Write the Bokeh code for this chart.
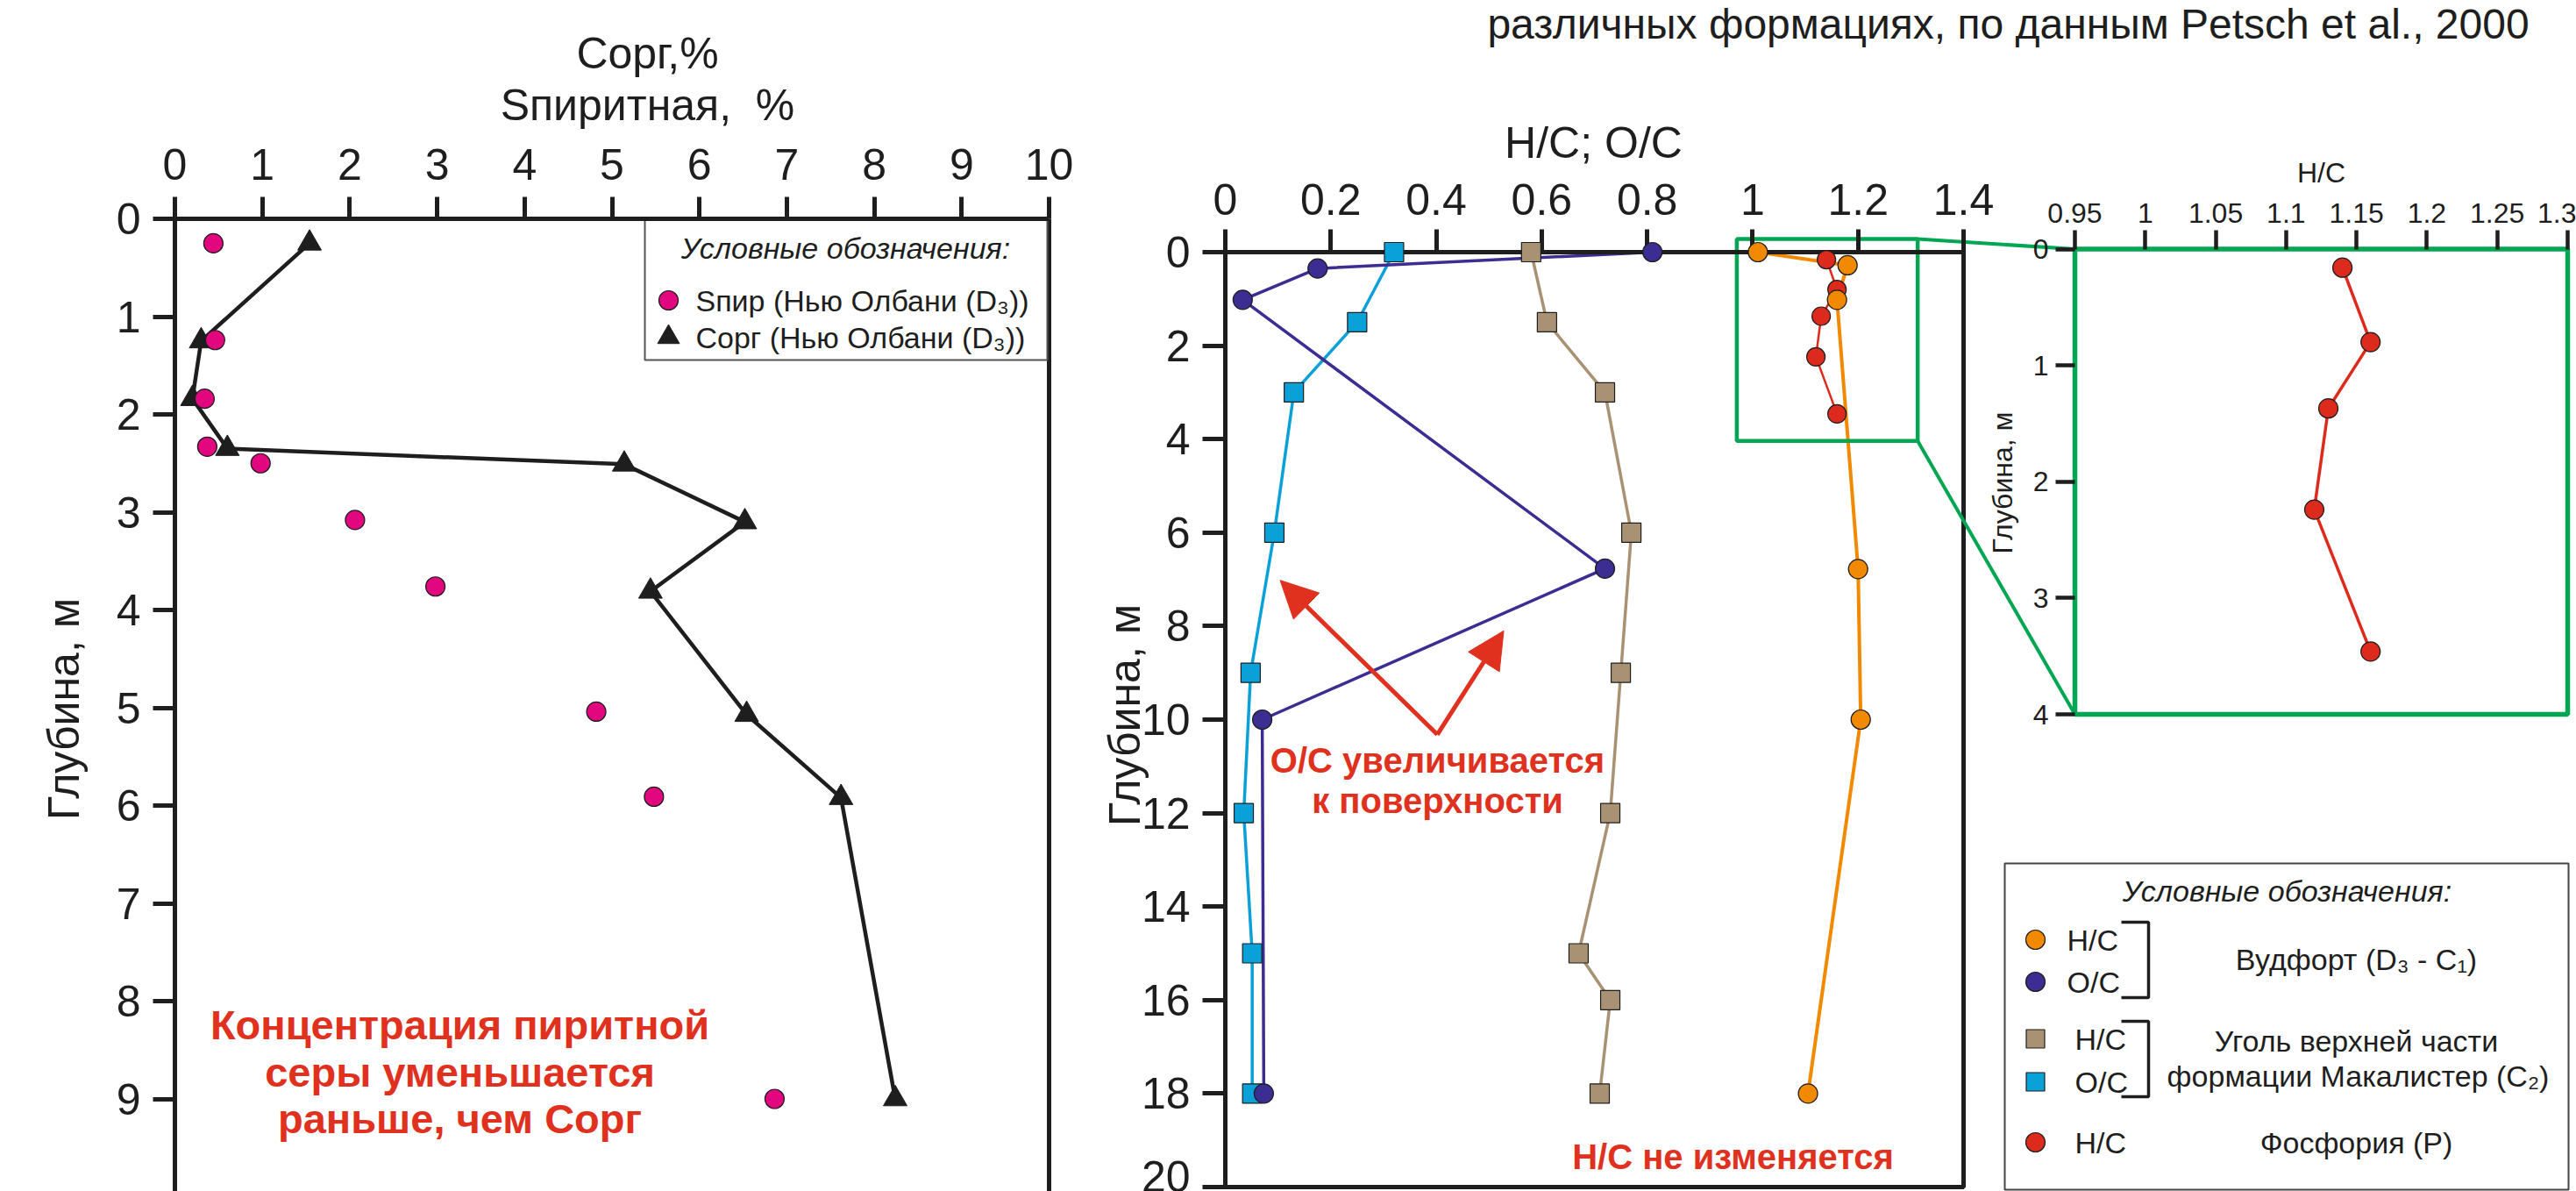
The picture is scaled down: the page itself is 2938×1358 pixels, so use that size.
import math
from bokeh.plotting import figure
from bokeh.models import Range1d, LinearAxis, FixedTicker, NumeralTickFormatter, Label, Arrow, NormalHead
from bokeh.embed import file_html
from bokeh.resources import INLINE

W, H = 2938, 1358
FONT = "Liberation Sans"
INK = "#1e1e1e"

# ---------------- data ----------------
# Left panel: New Albany (D3)
spir_depth = [0.25, 1.24, 1.84, 2.33, 2.50, 3.08, 3.76, 5.04, 5.91, 9.00]
spir_value = [0.44, 0.46, 0.34, 0.37, 0.98, 2.06, 2.98, 4.82, 5.48, 6.86]
corg_depth = [0.25, 1.25, 1.84, 2.35, 2.51, 3.10, 3.81, 5.07, 5.92, 9.00]
corg_value = [1.54, 0.30, 0.20, 0.60, 5.14, 6.52, 5.44, 6.54, 7.62, 8.24]
L_xticks = list(range(0, 11))
L_yticks = list(range(0, 11))

# Middle panel: Woodford, McAlester coal, Phosphoria
wf_hc_depth = [0.0, 0.28, 1.02, 6.78, 10.0, 18.0]
wf_hc = [1.01, 1.18, 1.16, 1.20, 1.205, 1.105]
wf_oc_depth = [0.0, 0.35, 1.02, 6.77, 10.0, 18.0]
wf_oc = [0.81, 0.175, 0.033, 0.72, 0.07, 0.073]
mc_hc_depth = [0, 1.5, 3, 6, 9, 12, 15, 16, 18]
mc_hc = [0.58, 0.61, 0.72, 0.77, 0.75, 0.73, 0.67, 0.73, 0.71]
mc_oc_depth = [0, 1.5, 3, 6, 9, 12, 15, 18]
mc_oc = [0.32, 0.25, 0.13, 0.093, 0.048, 0.035, 0.051, 0.051]
ph_hc_depth = [0.16, 0.80, 1.37, 2.24, 3.46]
ph_hc = [1.14, 1.16, 1.13, 1.12, 1.16]
M_xticks = [0, 0.2, 0.4, 0.6, 0.8, 1.0, 1.2, 1.4]
M_yticks = list(range(0, 21, 2))

# Inset (Phosphoria zoom)
I_xticks = [0.95, 1.0, 1.05, 1.1, 1.15, 1.2, 1.25, 1.3]
I_yticks = [0, 1, 2, 3, 4]
zoom_box = dict(left=0.97, right=1.313, top=-0.28, bottom=4.04)   # in middle-panel units

# arrows (middle panel units): common start, two ends
arrow_start = (0.402, 10.32)
arrow_ends = [(0.104, 7.02), (0.528, 8.10)]

# colours
PINK = "#e2067f"
ORANGE = "#f18a00"
INDIGO = "#3b2d92"
TAN = "#a99273"
CYAN = "#0aa0d8"
PRED = "#dc2a1c"
GREEN = "#00a651"
TRED = "#e0301e"


class Panel:
    def __init__(self, name, xd, xp, yd, yp):
        self.name = name
        self.xlim, self.ylim = xd, yd
        self.sx = (xp[1] - xp[0]) / (xd[1] - xd[0])
        self.sy = (yp[1] - yp[0]) / (yd[1] - yd[0])
        self.x0d, self.x0p, self.y0d, self.y0p = xd[0], xp[0], yd[0], yp[0]

    def px(self, x, y):
        return self.x0p + (x - self.x0d) * self.sx, self.y0p + (y - self.y0d) * self.sy

    def xrange(self):
        return Range1d(self.x0d - self.x0p / self.sx, self.x0d + (W - self.x0p) / self.sx)

    def yrange(self):
        return Range1d(self.y0d + (H - self.y0p) / self.sy, self.y0d - self.y0p / self.sy)


PL = Panel("L", (0, 10), (199, 1196), (0, 10), (249, 1364))
PM = Panel("M", (0, 1.4), (1397, 2239), (0, 20), (287, 1353))
PI = Panel("I", (0.95, 1.3), (2366, 2928), (0, 4), (283.5, 814))

p = figure(width=W, height=H, x_range=Range1d(0, W), y_range=Range1d(H, 0),
           output_backend="svg", toolbar_location=None, min_border=0,
           x_axis_type=None, y_axis_type=None)
p.outline_line_color = None
p.background_fill_color = "white"
p.border_fill_color = "white"
for pn in (PL, PM, PI):
    p.extra_x_ranges[pn.name] = pn.xrange()
    p.extra_y_ranges[pn.name] = pn.yrange()


def axes(pn, xticks, yticks, fs, tick_len, lw, so_top, so_left, line_color=INK):
    top = LinearAxis(x_range_name=pn.name, y_range_name=pn.name, fixed_location=pn.ylim[0],
                     bounds=pn.xlim, ticker=FixedTicker(ticks=xticks),
                     formatter=NumeralTickFormatter(format="0.[00]"))
    left = LinearAxis(x_range_name=pn.name, y_range_name=pn.name, fixed_location=pn.xlim[0],
                      bounds=pn.ylim, ticker=FixedTicker(ticks=yticks),
                      formatter=NumeralTickFormatter(format="0.[00]"))
    for ax, so in ((top, so_top), (left, so_left)):
        ax.axis_line_color = line_color
        ax.axis_line_width = lw
        ax.major_tick_line_color = INK
        ax.major_tick_line_width = lw
        ax.major_tick_out = tick_len
        ax.major_tick_in = 0
        ax.minor_tick_line_color = None
        ax.major_label_text_font = FONT
        ax.major_label_text_font_size = f"{fs}px"
        ax.major_label_text_color = INK
        ax.major_label_standoff = so
    p.add_layout(top, "above")
    p.add_layout(left, "left")


def txt(x, y, s, size, color=INK, style="normal", align="center", angle=0.0, baseline="middle"):
    p.add_layout(Label(x=x, y=y, text=s, text_font=FONT, text_font_size=f"{size}px",
                       text_color=color, text_font_style=style, text_align=align,
                       text_baseline=baseline, angle=angle))


# ---------------- left panel ----------------
kL = dict(x_range_name="L", y_range_name="L")
p.segment(x0=[PL.xlim[1]], y0=[PL.ylim[0]], x1=[PL.xlim[1]], y1=[PL.ylim[1]],
          line_color=INK, line_width=5, **kL)
p.line(corg_value, corg_depth, line_color=INK, line_width=4.5, **kL)
p.scatter(corg_value, corg_depth, marker="triangle", size=27, fill_color=INK, line_color=INK, **kL)
p.scatter(spir_value, spir_depth, marker="circle", size=22, fill_color=PINK, line_color=INK,
          line_width=1.2, **kL)
axes(PL, L_xticks, L_yticks, 50, 25, 5, 20, 14)

# legend (left)
p.quad(left=[735], right=[1194], top=[250], bottom=[410], fill_color="white",
       line_color="#555555", line_width=2)
txt(964, 282, "Условные обозначения:", 34, style="italic")
p.scatter([762], [342], marker="circle", size=22, fill_color=PINK, line_color=INK, line_width=1.2)
p.scatter([762], [384], marker="triangle", size=25, fill_color=INK, line_color=INK)
txt(793, 342, "Sпир (Нью Олбани (D₃))", 34, align="left")
txt(793, 384, "Сорг (Нью Олбани (D₃))", 34, align="left")

# titles left
txt(738, 60, "Сорг,%", 50)
txt(738, 119, "Sпиритная,\u00a0\u00a0%", 50)
txt(72, 808, "Глубина, м", 50, angle=math.pi / 2)
txt(524, 1168, "Концентрация пиритной", 47, color=TRED, style="bold")
txt(524, 1222, "серы уменьшается", 47, color=TRED, style="bold")
txt(524, 1275, "раньше, чем Сорг", 47, color=TRED, style="bold")

# ---------------- middle panel ----------------
kM = dict(x_range_name="M", y_range_name="M")
p.quad(left=[PM.xlim[0]], right=[PM.xlim[1]], top=[PM.ylim[0]], bottom=[PM.ylim[1]],
       fill_color=None, line_color=INK, line_width=5, **kM)
p.line(mc_hc, mc_hc_depth, line_color=TAN, line_width=3.5, **kM)
p.line(mc_oc, mc_oc_depth, line_color=CYAN, line_width=3.5, **kM)
p.line(wf_oc, wf_oc_depth, line_color=INDIGO, line_width=3.5, **kM)
p.line(ph_hc, ph_hc_depth, line_color=PRED, line_width=2.5, **kM)
p.line(wf_hc, wf_hc_depth, line_color=ORANGE, line_width=4, **kM)
p.quad(fill_color=None, line_color=GREEN, line_width=4.5, **{k: [v] for k, v in zoom_box.items()}, **kM)
p.scatter(mc_hc, mc_hc_depth, marker="square", size=22, fill_color=TAN, line_color=INK,
          line_width=1.2, level="overlay", **kM)
p.scatter(mc_oc, mc_oc_depth, marker="square", size=22, fill_color=CYAN, line_color=INK,
          line_width=1.2, level="overlay", **kM)
p.scatter(wf_oc, wf_oc_depth, marker="circle", size=22, fill_color=INDIGO, line_color=INK,
          line_width=1.2, level="overlay", **kM)
p.scatter(ph_hc, ph_hc_depth, marker="circle", size=21, fill_color=PRED, line_color=INK,
          line_width=1.2, level="overlay", **kM)
p.scatter(wf_hc, wf_hc_depth, marker="circle", size=22, fill_color=ORANGE, line_color=INK,
          line_width=1.2, level="overlay", **kM)
axes(PM, M_xticks, M_yticks, 50, 26, 5, 17, 14)

for (xe, ye) in arrow_ends:
    p.add_layout(Arrow(end=NormalHead(size=42, fill_color=TRED, line_color=TRED),
                       x_start=arrow_start[0], y_start=arrow_start[1], x_end=xe, y_end=ye,
                       line_color=TRED, line_width=5, **kM))

txt(1817, 162, "H/C; O/C", 50)
txt(1282, 815, "Глубина, м", 50, angle=math.pi / 2)
txt(1639, 866, "O/C увеличивается", 40, color=TRED, style="bold")
txt(1639, 912, "к поверхности", 40, color=TRED, style="bold")
txt(1976, 1318, "H/C не изменяется", 40, color=TRED, style="bold")

# connectors from the zoom box to the inset
c1a = PM.px(zoom_box["right"], zoom_box["top"])
c1b = PI.px(PI.xlim[0], PI.ylim[0])
c2a = PM.px(zoom_box["right"], zoom_box["bottom"])
c2b = PI.px(PI.xlim[0], PI.ylim[1])
p.segment(x0=[c1a[0], c2a[0]], y0=[c1a[1], c2a[1]], x1=[c1b[0], c2b[0]], y1=[c1b[1], c2b[1]],
          line_color=GREEN, line_width=4)

# ---------------- inset ----------------
kI = dict(x_range_name="I", y_range_name="I")
p.quad(left=[PI.xlim[0]], right=[PI.xlim[1]], top=[PI.ylim[0]], bottom=[PI.ylim[1]],
       fill_color="white", line_color=GREEN, line_width=5.5, **kI)
p.line(ph_hc, ph_hc_depth, line_color=PRED, line_width=3.5, **kI)
p.scatter(ph_hc, ph_hc_depth, marker="circle", size=22, fill_color=PRED, line_color=INK,
          line_width=1.2, level="overlay", **kI)
axes(PI, I_xticks, I_yticks, 32, 22, 4.5, 8, 8, line_color=None)
txt(2647, 196, "H/C", 32)
txt(2283, 550, "Глубина, м", 32, angle=math.pi / 2)

# ---------------- legend (right) ----------------
p.quad(left=[2286], right=[2929], top=[984], bottom=[1356], fill_color="white",
       line_color="#444444", line_width=2)
txt(2608, 1015, "Условные обозначения:", 34, style="italic")
p.scatter([2321, 2321], [1071, 1119], marker="circle", size=22,
          fill_color=[ORANGE, INDIGO], line_color=INK, line_width=1.2)
p.scatter([2321, 2321], [1184, 1233], marker="square", size=21,
          fill_color=[TAN, CYAN], line_color=INK, line_width=1.2)
p.scatter([2321], [1302], marker="circle", size=22, fill_color=PRED, line_color=INK, line_width=1.2)
txt(2357, 1071, "H/C", 34, align="left")
txt(2357, 1119, "O/C", 34, align="left")
txt(2366, 1184, "H/C", 34, align="left")
txt(2366, 1233, "O/C", 34, align="left")
txt(2366, 1302, "H/C", 34, align="left")
p.multi_line(xs=[[2419, 2450, 2450, 2419], [2419, 2450, 2450, 2419]],
             ys=[[1051, 1051, 1137, 1137], [1164, 1164, 1250, 1250]],
             line_color=INK, line_width=3.5)
txt(2687, 1093, "Вудфорт (D₃ - C₁)", 34)
txt(2687, 1186, "Уголь верхней части", 34)
txt(2689, 1226, "формации Макалистер (C₂)", 34)
txt(2687, 1302, "Фосфория (P)", 34)

# title (second line visible)
txt(2290, 27, "различных формациях, по данным Petsch et al., 2000", 48, baseline="alphabetic")

open("out.html", "w").write(file_html(p, INLINE))
